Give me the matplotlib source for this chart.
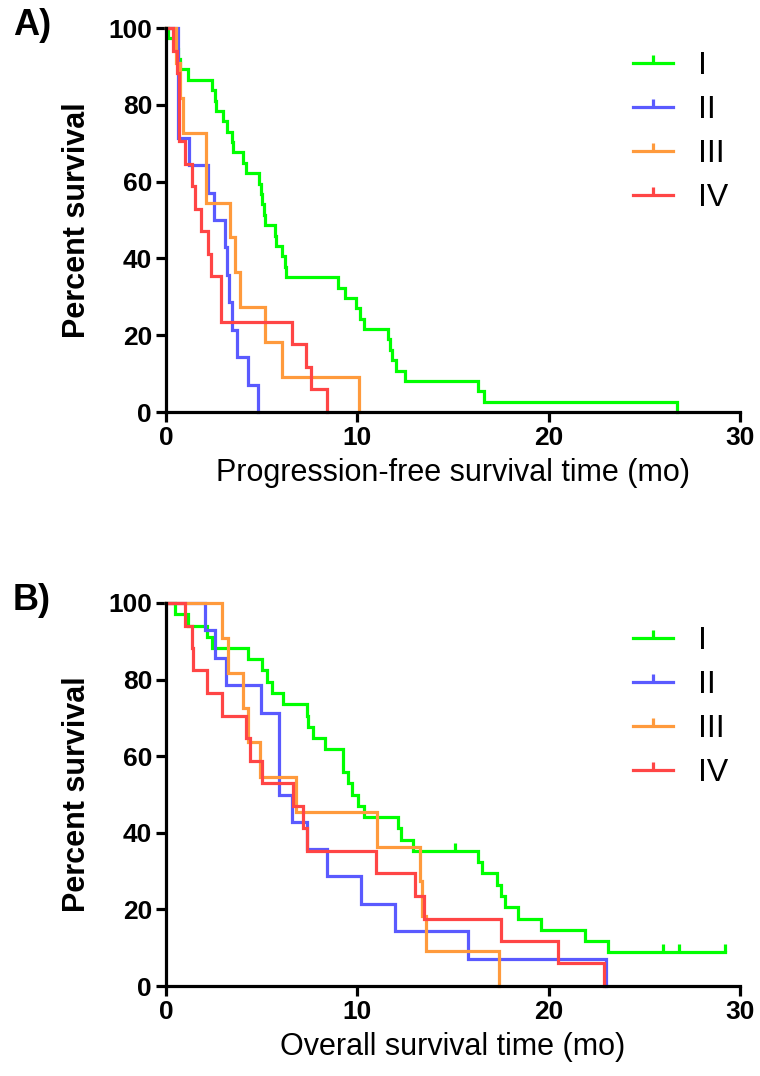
import matplotlib
matplotlib.use('Agg')
import matplotlib.pyplot as plt
from matplotlib.lines import Line2D

plt.rcParams['font.family'] = ['Liberation Sans', 'DejaVu Sans']

groups = ['I', 'II', 'III', 'IV']
colors = ['#00ff00', '#5a5aff', '#ff9a3c', '#ff4545']
xticks = [0, 10, 20, 30]
yticks = [0, 20, 40, 60, 80, 100]

# Panel A: progression-free survival (months, percent)
pfs_I_t = [0, 0.1, 0.5, 0.64, 0.73, 1.17, 2.42, 2.56, 2.6, 3.0, 3.2, 3.47, 3.5, 4.04, 4.2, 4.85, 4.95, 5.0, 5.1,
           5.2, 5.7, 5.75, 6.05, 6.2, 6.25, 9.0, 9.36, 9.95, 10.15, 10.35, 11.6, 11.7, 11.8, 12.0, 12.5, 16.3, 16.6, 26.7]
pfs_I_s = [100, 97.3, 94.6, 91.9, 89.2, 86.5, 83.8, 81.1, 78.4, 75.7, 73.0, 70.3, 67.6, 64.9, 62.2, 59.5, 56.8, 54.1, 51.4,
           48.6, 45.9, 43.2, 40.5, 37.8, 35.1, 32.4, 29.7, 27.0, 24.3, 21.6, 18.9, 16.2, 13.5, 10.8, 8.1, 5.4, 2.7, 0]
pfs_II_t = [0, 0.64, 1.2, 2.2, 2.5, 3.1, 3.2, 3.3, 3.45, 3.7, 4.3, 4.8]
pfs_II_s = [100, 71.4, 64.3, 57.1, 50.0, 42.9, 35.7, 28.6, 21.4, 14.3, 7.1, 0]
pfs_III_t = [0, 0.5, 0.75, 0.9, 2.1, 3.35, 3.6, 3.85, 5.15, 6.05, 10.1]
pfs_III_s = [100, 90.9, 81.8, 72.7, 54.5, 45.5, 36.4, 27.3, 18.2, 9.1, 0]
pfs_IV_t = [0, 0.35, 0.55, 0.7, 1.0, 1.35, 1.5, 1.85, 2.2, 2.35, 2.9, 6.6, 7.3, 7.6, 8.4]
pfs_IV_s = [100, 94.1, 88.2, 70.6, 64.7, 58.8, 52.9, 47.1, 41.2, 35.3, 23.5, 17.6, 11.8, 5.9, 0]

# Panel B: overall survival (months, percent)
os_I_t = [0, 0.47, 1.17, 2.13, 2.39, 4.3, 5.0, 5.26, 5.52, 6.13, 7.35, 7.44, 7.7, 8.31, 9.25, 9.53, 9.7, 10.05,
          10.35, 12.14, 12.3, 12.9, 16.3, 16.5, 17.3, 17.5, 17.7, 18.4, 19.6, 21.9, 23.1, 29.2]
os_I_s = [100, 97.1, 94.1, 91.2, 88.2, 85.3, 82.4, 79.4, 76.5, 73.5, 70.6, 67.6, 64.7, 61.8, 55.9, 52.9, 50.0, 47.1,
          44.1, 41.2, 38.2, 35.3, 32.4, 29.4, 26.5, 23.5, 20.6, 17.6, 14.7, 11.8, 8.8, 8.8]
os_I_cens_t = [15.1, 26.0, 26.8, 29.2]
os_I_cens_s = [35.3, 8.8, 8.8, 8.8]
os_II_t = [0, 2.04, 2.56, 3.12, 4.97, 5.9, 6.57, 7.35, 8.4, 10.2, 11.95, 15.8, 23.0]
os_II_s = [100, 92.9, 85.7, 78.6, 71.4, 50.0, 42.9, 35.7, 28.6, 21.4, 14.3, 7.1, 0]
os_III_t = [0, 2.91, 3.24, 4.04, 4.3, 4.91, 6.78, 11.05, 13.3, 13.4, 13.6, 17.4]
os_III_s = [100, 90.9, 81.8, 72.7, 63.6, 54.5, 45.5, 36.4, 27.3, 18.2, 9.1, 0]
os_IV_t = [0, 0.99, 1.34, 1.43, 2.13, 2.91, 4.2, 4.39, 5.0, 6.66, 7.18, 7.35, 10.95, 13.0, 13.5, 17.5, 20.5, 22.9]
os_IV_s = [100, 94.1, 88.2, 82.4, 76.5, 70.6, 64.7, 58.8, 52.9, 47.1, 41.2, 35.3, 29.4, 23.5, 17.6, 11.8, 5.9, 0]

LW = 2.3

fig = plt.figure(figsize=(7.6, 10.76), dpi=100)
axA = fig.add_axes([166 / 760, (1076 - 412) / 1076, 574 / 760, 384 / 1076])
axB = fig.add_axes([166 / 760, (1076 - 986) / 1076, 574 / 760, 383 / 1076])


def style(ax, xlabel):
    ax.set_xlim(0, 30)
    ax.set_ylim(0, 100)
    ax.set_xticks(xticks)
    ax.set_yticks(yticks)
    for s in ['top', 'right']:
        ax.spines[s].set_visible(False)
    for s in ['left', 'bottom']:
        ax.spines[s].set_linewidth(LW)
    ax.tick_params(width=LW, length=7, labelsize=19, pad=3)
    for lab in ax.get_xticklabels() + ax.get_yticklabels():
        lab.set_fontweight('bold')
    ax.set_xlabel(xlabel, fontsize=22, labelpad=6)
    ax.set_ylabel('Percent survival', fontsize=22, fontweight='bold', labelpad=12)
    handles = [Line2D([], [], color=c, lw=LW, marker=2, markersize=6, mew=LW) for c in colors]
    ax.legend(handles, groups, loc='upper left', bbox_to_anchor=(0.8136, 0.94), frameon=False,
              fontsize=23, handlelength=1.25, handletextpad=0.8, labelspacing=0.44,
              borderpad=0, borderaxespad=0)


for t, s, c in zip([pfs_I_t, pfs_II_t, pfs_III_t, pfs_IV_t], [pfs_I_s, pfs_II_s, pfs_III_s, pfs_IV_s], colors):
    axA.plot(t, s, drawstyle='steps-post', color=c, lw=LW, clip_on=False, solid_joinstyle='miter')
style(axA, 'Progression-free survival time (mo)')

for t, s, c in zip([os_I_t, os_II_t, os_III_t, os_IV_t], [os_I_s, os_II_s, os_III_s, os_IV_s], colors):
    axB.plot(t, s, drawstyle='steps-post', color=c, lw=LW, clip_on=False, solid_joinstyle='miter')
axB.plot(os_I_cens_t, os_I_cens_s, linestyle='none', marker=2, markersize=6, mew=LW, color=colors[0], clip_on=False)
style(axB, 'Overall survival time (mo)')

fig.text(13 / 760, 1 - 8 / 1076, 'A)', fontsize=26, fontweight='bold', va='top', ha='left')
fig.text(13 / 760, 1 - 583 / 1076, 'B)', fontsize=26, fontweight='bold', va='top', ha='left')

fig.savefig('out.png', dpi=100)
